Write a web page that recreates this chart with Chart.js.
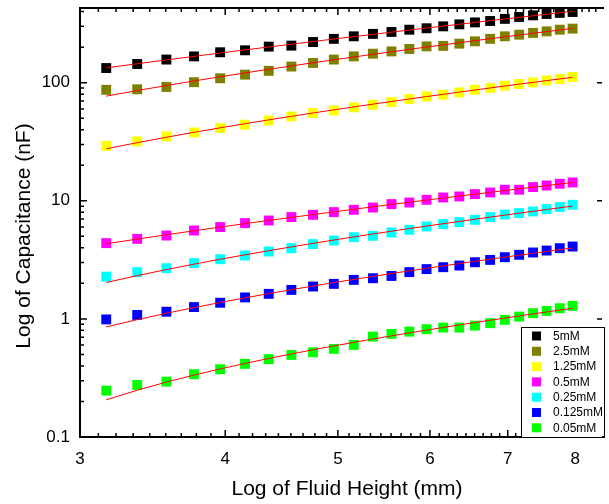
<!DOCTYPE html>
<html>
<head>
<meta charset="utf-8">
<script src="https://cdn.jsdelivr.net/npm/chart.js@4.4.1/dist/chart.umd.min.js"></script>
<style>
  html, body { margin: 0; padding: 0; background: #fff; }
</style>
</head>
<body>
<canvas id="cap" width="609" height="504"></canvas>
<script>
// fluid height (mm) - same heights for every concentration
const heights = [3.16, 3.36, 3.56, 3.76, 3.96, 4.16, 4.36, 4.56, 4.76, 4.96, 5.16, 5.36, 5.56,
                 5.76, 5.96, 6.16, 6.36, 6.56, 6.76, 6.96, 7.16, 7.36, 7.56, 7.76, 7.96]

// capacitance (nF) per concentration
const cap5 = [133, 144, 157, 167, 181, 188, 202, 206, 221, 235, 247, 259, 269,
              281, 289, 300, 312, 324, 333, 347, 360, 372, 382, 390, 397]
const cap2_5 = [87, 88, 92, 101, 109, 117, 126, 137, 147, 157, 167, 176, 184,
                193, 203, 205, 214, 224, 235, 247, 255, 264, 272, 281, 287]
const cap1_25 = [29.2, 31.8, 35.1, 37.9, 41.3, 44.1, 47.9, 51.8, 55.4, 58.2, 61.8, 65.1, 68.6,
                 72.8, 76.6, 79.1, 82.8, 87.2, 90.2, 94.3, 97.5, 100.6, 104.6, 107.5, 111.8]
const cap0_5 = [4.38, 4.76, 5.08, 5.60, 5.99, 6.47, 6.81, 7.28, 7.61, 8.02, 8.39, 8.77, 9.38,
                9.67, 10.2, 10.67, 10.88, 11.4, 11.76, 12.4, 12.4, 13.07, 13.48, 13.94, 14.29]
const cap0_25 = [2.28, 2.49, 2.69, 2.97, 3.20, 3.44, 3.72, 3.97, 4.30, 4.61, 4.92, 5.05, 5.39,
                 5.68, 6.06, 6.35, 6.60, 6.90, 7.28, 7.65, 7.87, 8.12, 8.51, 8.85, 9.25]
const cap0_125 = [0.99, 1.08, 1.15, 1.26, 1.37, 1.52, 1.63, 1.76, 1.88, 1.98, 2.14, 2.21, 2.31,
                  2.49, 2.64, 2.74, 2.83, 3.02, 3.16, 3.33, 3.49, 3.65, 3.79, 3.97, 4.10]
const cap0_05 = [0.247, 0.276, 0.294, 0.340, 0.375, 0.416, 0.456, 0.495, 0.522, 0.557, 0.602, 0.708, 0.746,
                 0.780, 0.818, 0.844, 0.844, 0.877, 0.920, 0.981, 1.046, 1.118, 1.169, 1.232, 1.289]

const labels = ['5mM', '2.5mM', '1.25mM', '0.5mM', '0.25mM', '0.125mM', '0.05mM']
const colors = ['#000000', '#808000', '#ffff00', '#ff00ff', '#00ffff', '#0000ff', '#00ff00']
const series = [cap5, cap2_5, cap1_25, cap0_5, cap0_25, cap0_125, cap0_05]

const xTicks = [3, 4, 5, 6, 7, 8]
const yTicks = [0.1, 1, 10, 100]

const FONT = "'Liberation Sans', Arial, sans-serif"

// least squares straight line y = a + b*x, sampled at the measured heights
function fitLine(xs, ys) {
    let n = xs.length, sx = 0, sy = 0, sxx = 0, sxy = 0
    for (let i = 0; i < n; i++) {
        sx += xs[i]; sy += ys[i]; sxx += xs[i] * xs[i]; sxy += xs[i] * ys[i]
    }
    const b = (n * sxy - sx * sy) / (n * sxx - sx * sx)
    const a = (sy - b * sx) / n
    return xs.map(v => ({x: v, y: a + b * v}))
}

let datasets = []
series.forEach(function (s, i) {
    datasets.push({
        label: labels[i],
        data: heights.map((h, j) => ({x: h, y: s[j]})),
        pointStyle: 'rect',
        pointRadius: 7,
        backgroundColor: colors[i],
        borderColor: colors[i],
        borderWidth: 0,
        order: 1
    })
})
series.forEach(function (s) {
    datasets.push({
        label: '',
        fit: true,
        data: fitLine(heights, s),
        showLine: true,
        pointRadius: 0,
        borderColor: '#ff0000',
        borderWidth: 1,
        order: 0
    })
})

// frame, inward ticks, axis titles and legend box
const decor = {
    id: 'decor',
    afterDraw(chart) {
        const ctx = chart.ctx
        const a = chart.chartArea
        const x = chart.scales.x, y = chart.scales.y
        ctx.save()
        ctx.strokeStyle = '#000'
        ctx.lineWidth = 2
        ctx.beginPath()
        ctx.moveTo(a.right + 2, a.top)
        ctx.lineTo(a.left, a.top)
        ctx.lineTo(a.left, a.bottom)
        ctx.lineTo(a.right + 2, a.bottom)
        ctx.stroke()

        ctx.lineWidth = 1.5
        ctx.beginPath()
        // x ticks, top and bottom
        xTicks.forEach(function (m) {
            let px = x.getPixelForValue(m)
            ctx.moveTo(px, a.bottom); ctx.lineTo(px, a.bottom - 7)
            ctx.moveTo(px, a.top); ctx.lineTo(px, a.top + 7)
            for (let k = 1; k <= 8; k++) {
                let v = m + k / 9
                if (v > x.max) break
                px = x.getPixelForValue(v)
                ctx.moveTo(px, a.bottom); ctx.lineTo(px, a.bottom - 4)
                ctx.moveTo(px, a.top); ctx.lineTo(px, a.top + 4)
            }
        })
        // y ticks, left (with minors) and right (majors only)
        yTicks.forEach(function (d) {
            let py = y.getPixelForValue(d)
            ctx.moveTo(a.left, py); ctx.lineTo(a.left + 7, py)
            ctx.moveTo(a.right, py); ctx.lineTo(a.right - 5, py)
            for (let k = 2; k <= 9; k++) {
                if (d * k > y.max) break
                py = y.getPixelForValue(d * k)
                ctx.moveTo(a.left, py); ctx.lineTo(a.left + 4, py)
            }
        })
        ctx.stroke()

        // axis titles
        ctx.fillStyle = '#000'
        ctx.font = '21px ' + FONT
        ctx.textAlign = 'center'
        ctx.textBaseline = 'alphabetic'
        ctx.fillText('Log of Fluid Height (mm)', 347, 495)
        ctx.translate(29.5, 236)
        ctx.rotate(-Math.PI / 2)
        ctx.fillText('Log of Capacitance (nF)', 0, 0)
        ctx.setTransform(1, 0, 0, 1, 0, 0)

        // legend
        const lx = 521, ly = 327
        ctx.fillStyle = '#fff'
        ctx.fillRect(lx, ly, a.right - lx, a.bottom - ly)
        ctx.lineWidth = 1
        ctx.strokeRect(lx + 0.5, ly + 0.5, a.right - lx + 2, a.bottom - ly)
        ctx.font = '12px ' + FONT
        ctx.textAlign = 'left'
        ctx.textBaseline = 'middle'
        chart.data.datasets.filter(ds => !ds.fit).forEach(function (ds, i) {
            const cy = ly + 9 + i * 15.3
            ctx.fillStyle = ds.backgroundColor
            ctx.fillRect(532, cy - 4.5, 9, 9)
            ctx.fillStyle = '#000'
            ctx.fillText(ds.label, 553, cy + 0.5)
        })
        ctx.restore()
    }
}

new Chart(document.getElementById('cap'), {
    type: 'scatter',
    data: {datasets: datasets},
    options: {
        responsive: false,
        animation: false,
        devicePixelRatio: 1,
        layout: {padding: {top: 8, right: 0, bottom: 0, left: 0}},
        plugins: {legend: {display: false}, tooltip: {enabled: false}},
        scales: {
            x: {
                type: 'logarithmic',
                min: 3,
                max: 8.437,
                grid: {display: false, drawTicks: false},
                border: {display: false},
                ticks: {
                    color: '#000', font: {family: FONT, size: 17}, padding: 12,
                    maxRotation: 0, autoSkip: false,
                    callback: v => String(v)
                },
                afterBuildTicks: s => { s.ticks = xTicks.map(v => ({value: v})) },
                afterFit: s => { s.height = 67; s.paddingLeft = 0; s.paddingRight = 0 }
            },
            y: {
                type: 'logarithmic',
                min: 0.1,
                max: 429,
                grid: {display: false, drawTicks: false},
                border: {display: false},
                ticks: {
                    color: '#000', font: {family: FONT, size: 17}, padding: 10,
                    autoSkip: false,
                    callback: v => String(v)
                },
                afterBuildTicks: s => { s.ticks = yTicks.map(v => ({value: v})) },
                afterFit: s => { s.width = 80; s.paddingTop = 0; s.paddingBottom = 0 }
            }
        }
    },
    plugins: [decor]
})
</script>
</body>
</html>
